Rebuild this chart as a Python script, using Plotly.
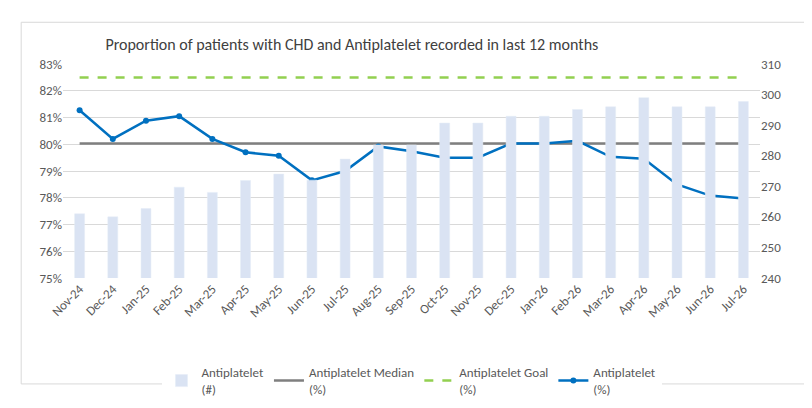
import plotly.graph_objects as go

months = ["Nov-24","Dec-24","Jan-25","Feb-25","Mar-25","Apr-25","May-25","Jun-25","Jul-25","Aug-25","Sep-25","Oct-25","Nov-25","Dec-25","Jan-26","Feb-26","Mar-26","Apr-26","May-26","Jun-26","Jul-26"]
counts = [261,260,262.7,269.7,268,271.9,274,272,278.9,283.5,283.5,290.7,290.7,292.9,292.9,295.1,296,299,296,296,297.7]
pct = [81.27,80.2,80.88,81.05,80.2,79.7,79.57,78.65,79.0,79.92,79.74,79.5,79.5,80.03,80.03,80.13,79.53,79.46,78.5,78.08,77.97]
median = 80.03
goal = 82.5

font = "Calibri, Carlito, Liberation Sans, sans-serif"
fig = go.Figure()
fig.add_trace(go.Bar(x=months, y=counts, name="Antiplatelet<br>(#)", marker_color="#dae3f3", width=0.3, yaxis="y2"))
fig.add_trace(go.Scatter(x=months, y=[median]*len(months), name="Antiplatelet Median<br>(%)", mode="lines", line=dict(color="#7f7f7f", width=2.5)))
fig.add_trace(go.Scatter(x=months, y=[goal]*len(months), name="Antiplatelet Goal<br>(%)", mode="lines", line=dict(color="#92d050", width=2.5, dash="dash")))
fig.add_trace(go.Scatter(x=months, y=pct, name="Antiplatelet<br>(%)", mode="lines+markers", line=dict(color="#0070c0", width=2.5), marker=dict(size=6)))

fig.update_layout(
    width=812, height=408, paper_bgcolor="white", plot_bgcolor="white",
    font=dict(family=font, size=13, color="#595959"),
    title=dict(text="Proportion of patients with CHD and Antiplatelet recorded in last 12 months", x=0.12, xanchor="left", y=0.925, font=dict(size=16, color="#404040")),
    margin=dict(l=55, r=60, t=56, b=126),
    xaxis=dict(tickangle=-45, showgrid=False, showline=False, range=[-0.5, 20.5]),
    yaxis=dict(range=[75, 83], dtick=1, ticksuffix="%", gridcolor="#d9d9d9", zeroline=False, tickformat=".0f"),
    yaxis2=dict(range=[240, 310], dtick=10, overlaying="y", side="right", showgrid=False, zeroline=False),
    legend=dict(orientation="h", x=0.5, xanchor="center", y=-0.37, yanchor="top", font=dict(size=13)),
    bargap=0.7,
    shapes=[dict(type="rect", xref="paper", yref="paper", x0=-0.06, x1=1.065, y0=-0.495, y1=1.195, line=dict(color="#d9d9d9", width=1))],
)
fig.write_html("out.html")
